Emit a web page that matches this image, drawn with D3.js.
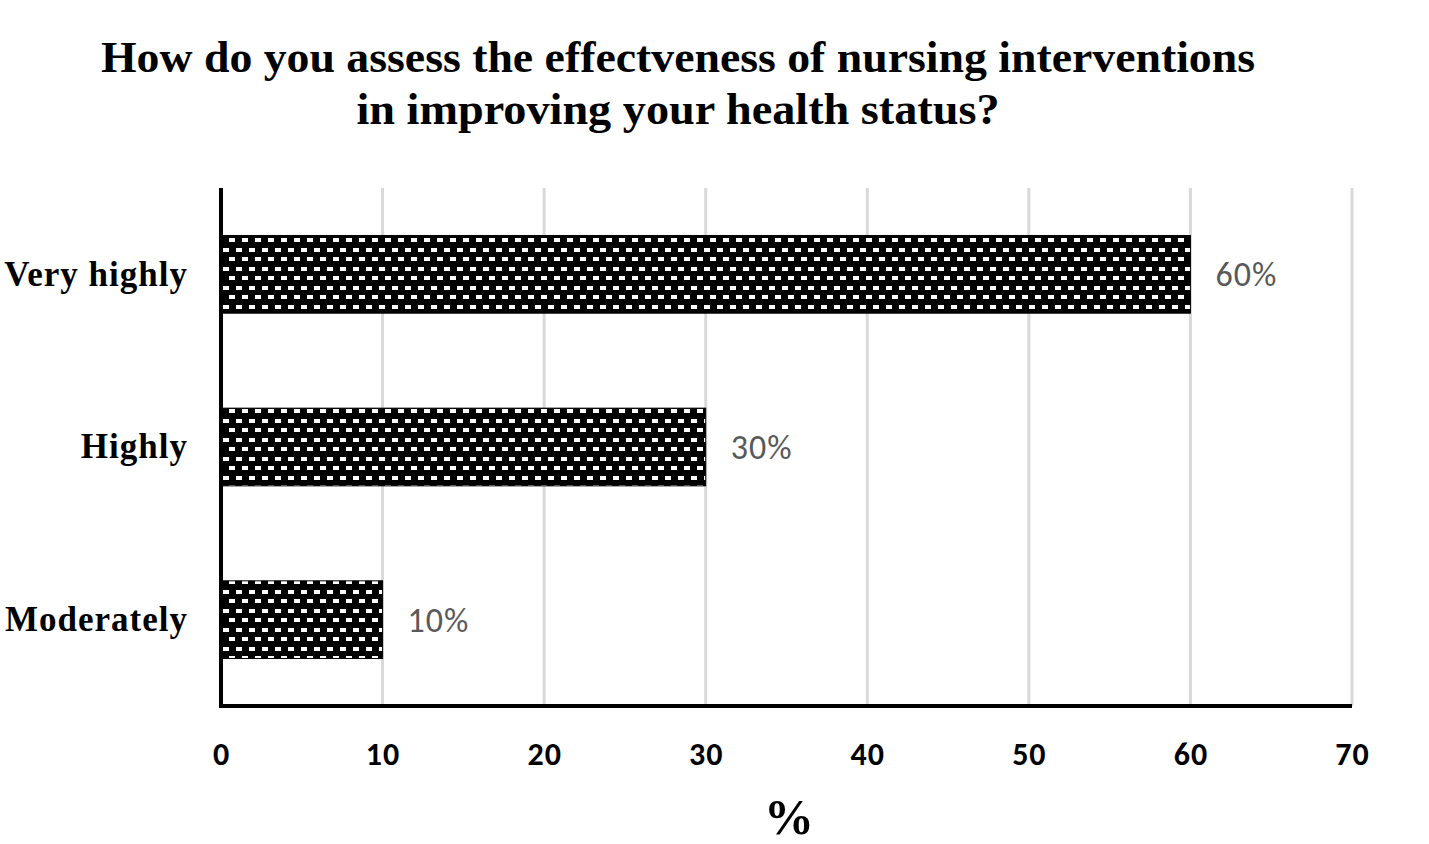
<!DOCTYPE html>
<html>
<head>
<meta charset="utf-8">
<script src="https://cdn.jsdelivr.net/npm/d3@7"></script>
<style>
  body { margin: 0; background: #fff; }
  svg { display: block; }
</style>
</head>
<body>
<svg id="chart" width="1429" height="844"></svg>
<script>
// data
var categories = ["Very highly", "Highly", "Moderately"];
var percents = [60, 30, 10];
var tickValues = [0, 10, 20, 30, 40, 50, 60, 70];
var titleLines = ["How do you assess the effectveness of nursing interventions", "in improving your health status?"];
var titleWidths = [1154, 643]; // the original text is a bit stretched

var svg = d3.select("#chart");
var margin = {left: 221, right: 77, top: 188, bottom: 138};
var width = 1429 - margin.left - margin.right;
var height = 844 - margin.top - margin.bottom;

// dotted brick fill like the original
var defs = svg.append("defs");
var pat = defs.append("pattern").attr("id", "brick")
  .attr("patternUnits", "userSpaceOnUse").attr("width", 13).attr("height", 19);
pat.append("rect").attr("width", 13).attr("height", 19).attr("fill", "#000");
pat.append("rect").attr("x", 2).attr("y", 3).attr("width", 6).attr("height", 4).attr("fill", "#fff");
pat.append("rect").attr("x", 8).attr("y", 12).attr("width", 6).attr("height", 4).attr("fill", "#fff");
pat.append("rect").attr("x", -5).attr("y", 12).attr("width", 6).attr("height", 4).attr("fill", "#fff");

var g = svg.append("g").attr("transform", "translate(" + margin.left + "," + margin.top + ")");

var x = d3.scaleLinear().domain([0, 70]).range([0, width]);
var y = d3.scaleBand().domain(categories).range([0, height]).paddingInner(0.55).paddingOuter(0.275);

// gridlines
g.selectAll(".grid").data(tickValues.slice(1)).join("line")
  .attr("x1", d => x(d)).attr("x2", d => x(d))
  .attr("y1", 0).attr("y2", height)
  .attr("stroke", "#d9d9d9").attr("stroke-width", 3);

// bars
g.selectAll(".bar").data(percents).join("rect")
  .attr("x", 0)
  .attr("y", (d, i) => y(categories[i]))
  .attr("width", d => x(d))
  .attr("height", y.bandwidth())
  .attr("fill", "url(#brick)")
  .attr("stroke", "#000").attr("stroke-width", 1);

// value labels
g.selectAll(".val").data(percents).join("text")
  .attr("x", d => x(d) + 25)
  .attr("y", (d, i) => y(categories[i]) + y.bandwidth() / 2)
  .attr("dy", "0.35em")
  .attr("font-family", "Carlito, 'Open Sans', sans-serif")
  .attr("font-size", 34).attr("fill", "#595959")
  .attr("letter-spacing", 1)
  .text(d => d + "%");

// axes lines
g.append("line").attr("x1", 0).attr("x2", 0).attr("y1", 0).attr("y2", height + 2)
  .attr("stroke", "#000").attr("stroke-width", 4);
g.append("line").attr("x1", -2).attr("x2", width).attr("y1", height).attr("y2", height)
  .attr("stroke", "#000").attr("stroke-width", 4);

// x tick labels
var xAxis = g.append("g").attr("transform", "translate(0," + height + ")")
  .call(d3.axisBottom(x).tickValues(tickValues).tickSize(0).tickPadding(36));
xAxis.select(".domain").remove();
xAxis.selectAll("text")
  .attr("font-family", "Carlito, 'Open Sans', sans-serif")
  .attr("font-weight", "bold").attr("font-size", 32).attr("fill", "#000")
  .attr("letter-spacing", 1);

// category labels
var yAxis = g.append("g")
  .call(d3.axisLeft(y).tickSize(0).tickPadding(33));
yAxis.select(".domain").remove();
yAxis.selectAll("text")
  .attr("font-family", "'Liberation Serif', 'Times New Roman', serif")
  .attr("font-weight", "bold").attr("font-size", 35).attr("fill", "#000")
  .attr("letter-spacing", 1);

// title
svg.selectAll(".title").data(titleLines).join("text")
  .attr("x", 678).attr("y", (d, i) => 72 + i * 52)
  .attr("text-anchor", "middle")
  .attr("font-family", "'Liberation Serif', 'Times New Roman', serif")
  .attr("font-weight", "bold").attr("font-size", 44).attr("fill", "#000")
  .attr("textLength", (d, i) => titleWidths[i])
  .attr("lengthAdjust", "spacingAndGlyphs")
  .text(d => d);

// x axis title
svg.append("text").attr("x", 789).attr("y", 834)
  .attr("text-anchor", "middle")
  .attr("font-family", "'Liberation Serif', 'Times New Roman', serif")
  .attr("font-weight", "bold").attr("font-size", 50).attr("fill", "#000")
  .text("%");
</script>
</body>
</html>
